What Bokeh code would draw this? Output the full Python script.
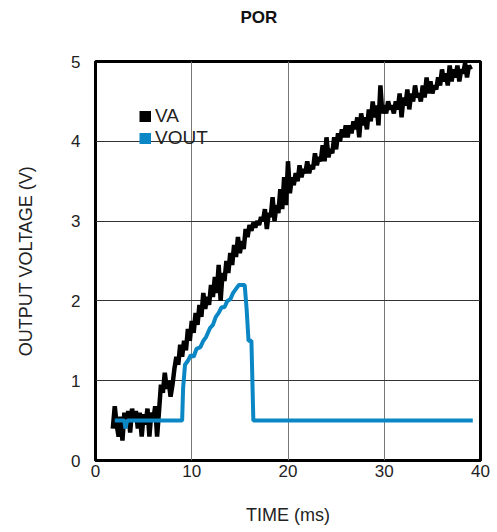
from bokeh.plotting import figure
from bokeh.models import Legend, LegendItem, FixedTicker, Title
from bokeh.embed import file_html
from bokeh.resources import INLINE

va_t = [1.8, 2.0, 2.2, 2.4, 2.6, 2.8, 3.0, 3.2, 3.4, 3.6, 3.8, 4.0, 4.2, 4.4, 4.6, 4.8,
        5.0, 5.2, 5.4, 5.6, 5.8, 6.0, 6.2, 6.4, 6.6, 6.8, 7.0, 7.2, 7.4, 7.6, 7.8,
        8.0, 8.2, 8.4, 8.6, 8.8, 9.0, 9.2, 9.4, 9.6, 9.8, 10.0, 10.2, 10.4, 10.6, 10.8,
        11.0, 11.2, 11.4, 11.6, 11.8, 12.0, 12.2, 12.4, 12.6, 12.8, 13.0, 13.2, 13.4, 13.6, 13.8,
        14.0, 14.2, 14.4, 14.6, 14.8, 15.0, 15.2, 15.4, 15.6, 15.8, 16.0, 16.2, 16.4, 16.6, 16.8,
        17.0, 17.2, 17.4, 17.6, 17.8, 18.0, 18.2, 18.4, 18.6, 18.8, 19.0, 19.2, 19.4, 19.6, 19.8,
        20.0, 20.2, 20.4, 20.6, 20.8, 21.0, 21.2, 21.4, 21.6, 21.8, 22.0, 22.2, 22.4, 22.6, 22.8,
        23.0, 23.2, 23.4, 23.6, 23.8, 24.0, 24.2, 24.4, 24.6, 24.8, 25.0, 25.2, 25.4, 25.6, 25.8,
        26.0, 26.2, 26.4, 26.6, 26.8, 27.0, 27.2, 27.4, 27.6, 27.8, 28.0, 28.2, 28.4, 28.6, 28.8,
        29.0, 29.2, 29.4, 29.6, 29.8, 30.0, 30.2, 30.4, 30.6, 30.8, 31.0, 31.2, 31.4, 31.6, 31.8,
        32.0, 32.2, 32.4, 32.6, 32.8, 33.0, 33.2, 33.4, 33.6, 33.8, 34.0, 34.2, 34.4, 34.6, 34.8,
        35.0, 35.2, 35.4, 35.6, 35.8, 36.0, 36.2, 36.4, 36.6, 36.8, 37.0, 37.2, 37.4, 37.6, 37.8,
        38.0, 38.2, 38.4, 38.6, 38.8, 39.0]
va_v = [0.4, 0.68, 0.45, 0.3, 0.55, 0.25, 0.6, 0.45, 0.62, 0.35, 0.65, 0.5, 0.62, 0.4, 0.6, 0.3,
        0.58, 0.45, 0.65, 0.3, 0.6, 0.5, 0.68, 0.3, 0.62, 0.95, 0.85, 1.1, 0.9, 1.0, 0.8,
        0.95, 1.15, 1.3, 1.2, 1.45, 1.3, 1.5, 1.38, 1.65, 1.5, 1.75, 1.6, 1.85, 1.7, 1.95,
        1.8, 2.1, 1.9, 2.05, 1.95, 2.2, 2.05, 2.3, 2.1, 2.45, 2.0, 2.35, 2.25, 2.5, 2.35,
        2.6, 2.45, 2.7, 2.55, 2.8, 2.6, 2.75, 2.65, 2.9, 2.8, 2.95, 2.88, 2.98, 2.92, 3.0,
        2.95, 3.05, 3.0, 3.15, 2.9, 3.1, 3.05, 3.3, 3.0, 3.2, 3.1, 3.4, 3.15, 3.55, 3.2,
        3.75, 3.35, 3.55, 3.45, 3.6, 3.5, 3.7, 3.55, 3.65, 3.6, 3.75, 3.6, 3.7, 3.65, 3.85,
        3.7, 3.8, 3.75, 3.95, 3.75, 4.05, 3.8, 3.9, 3.85, 4.05, 3.9, 4.1, 4.0, 4.15, 4.05,
        4.2, 4.05, 4.2, 4.1, 4.25, 4.15, 4.3, 4.05, 4.35, 4.2, 4.3, 4.15, 4.4, 4.25, 4.5,
        4.3, 4.45, 4.2, 4.7, 4.35, 4.45, 4.35, 4.5, 4.4, 4.45, 4.35, 4.5, 4.4, 4.6, 4.3,
        4.55, 4.45, 4.65, 4.4, 4.6, 4.5, 4.7, 4.55, 4.6, 4.5, 4.7, 4.55, 4.8, 4.6, 4.75,
        4.6, 4.7, 4.65, 4.8, 4.7, 4.9, 4.75, 4.85, 4.7, 4.95, 4.75, 4.9, 4.8, 4.95, 4.75,
        4.9, 4.85, 4.98, 4.8, 4.95, 4.9]

vout_t = [2.0, 3.0, 3.1, 3.3, 9.0, 9.1, 9.3, 9.6, 9.9, 10.2, 10.5, 10.9, 11.2, 11.5, 11.9,
          12.2, 12.5, 12.8, 13.1, 13.4, 13.7, 14.0, 14.3, 14.6, 14.9, 15.2, 15.5, 15.7, 15.9,
          16.2, 16.4, 39.2]
vout_v = [0.5, 0.5, 0.4, 0.5, 0.5, 0.9, 1.2, 1.25, 1.32, 1.3, 1.4, 1.42, 1.5, 1.55, 1.66,
          1.7, 1.8, 1.85, 1.92, 1.92, 2.0, 2.02, 2.1, 2.15, 2.2, 2.2, 2.2, 1.9, 1.5,
          1.5, 0.5, 0.5]

x_ticks = [0, 10, 20, 30, 40]
y_ticks = [0, 1, 2, 3, 4, 5]

FONT = "Liberation Sans"
BLUE = "#0a87c4"

p = figure(width=495, height=530, x_range=(0, 40), y_range=(0, 5),
           output_backend="svg", toolbar_location=None,
           min_border_left=95, min_border_right=15, min_border_top=60, min_border_bottom=70)

# figure's own title (outermost) carries the text
p.title.text = "POR"
p.title.text_font = FONT
p.title.text_font_size = "17px"
p.title.text_font_style = "bold"
p.title.align = "left"
p.title.offset = 145
p.title.standoff = 10
p.title.text_color = "#111111"

# empty spacer title placed between the title and the frame
spacer = Title(text=" ", text_font_size="1px", standoff=27)
p.add_layout(spacer, "above")

p.line(va_t, va_v, line_color="black", line_width=4.5)
p.line(vout_t, vout_v, line_color=BLUE, line_width=4)

# hidden thick-line renderers give square legend swatches
r_va = p.line(va_t, va_v, line_color="black", line_width=11, visible=False)
r_vout = p.line(vout_t, vout_v, line_color=BLUE, line_width=11, visible=False)
legend = Legend(items=[LegendItem(label="VA", renderers=[r_va]),
                       LegendItem(label="VOUT", renderers=[r_vout])],
                location=(44, 311), background_fill_alpha=0, border_line_alpha=0,
                inactive_fill_alpha=0,
                padding=0, margin=0, spacing=0, glyph_width=12, glyph_height=20,
                label_text_font=FONT, label_text_font_size="19px", label_height=20,
                label_standoff=4, label_text_color="#222222", click_policy="none")
p.add_layout(legend)

p.xaxis.ticker = FixedTicker(ticks=x_ticks)
p.yaxis.ticker = FixedTicker(ticks=y_ticks)
for ax in (p.xaxis, p.yaxis):
    ax.axis_line_color = None
    ax.major_tick_line_color = None
    ax.minor_tick_line_color = None
    ax.major_tick_out = 0
    ax.major_tick_in = 0
    ax.minor_tick_out = 0
    ax.minor_tick_in = 0
    ax.major_label_text_font = FONT
    ax.major_label_text_font_size = "17px"
    ax.major_label_text_color = "#222222"
    ax.axis_label_text_font = FONT
    ax.axis_label_text_font_size = "18px"
    ax.axis_label_text_font_style = "normal"
    ax.axis_label_text_color = "#222222"
p.xaxis.axis_label = "TIME (ms)"
p.yaxis.axis_label = "OUTPUT VOLTAGE (V)"
p.xaxis.major_label_standoff = 4
p.yaxis.major_label_standoff = 15
p.xaxis.axis_label_standoff = 25
p.yaxis.axis_label_standoff = 32

p.xgrid.grid_line_color = "#777777"
p.ygrid.grid_line_color = "#333333"
p.grid.grid_line_width = 1
p.outline_line_color = "black"
p.outline_line_width = 3
p.outline_line_alpha = 1

open("out.html", "w").write(file_html(p, INLINE))
